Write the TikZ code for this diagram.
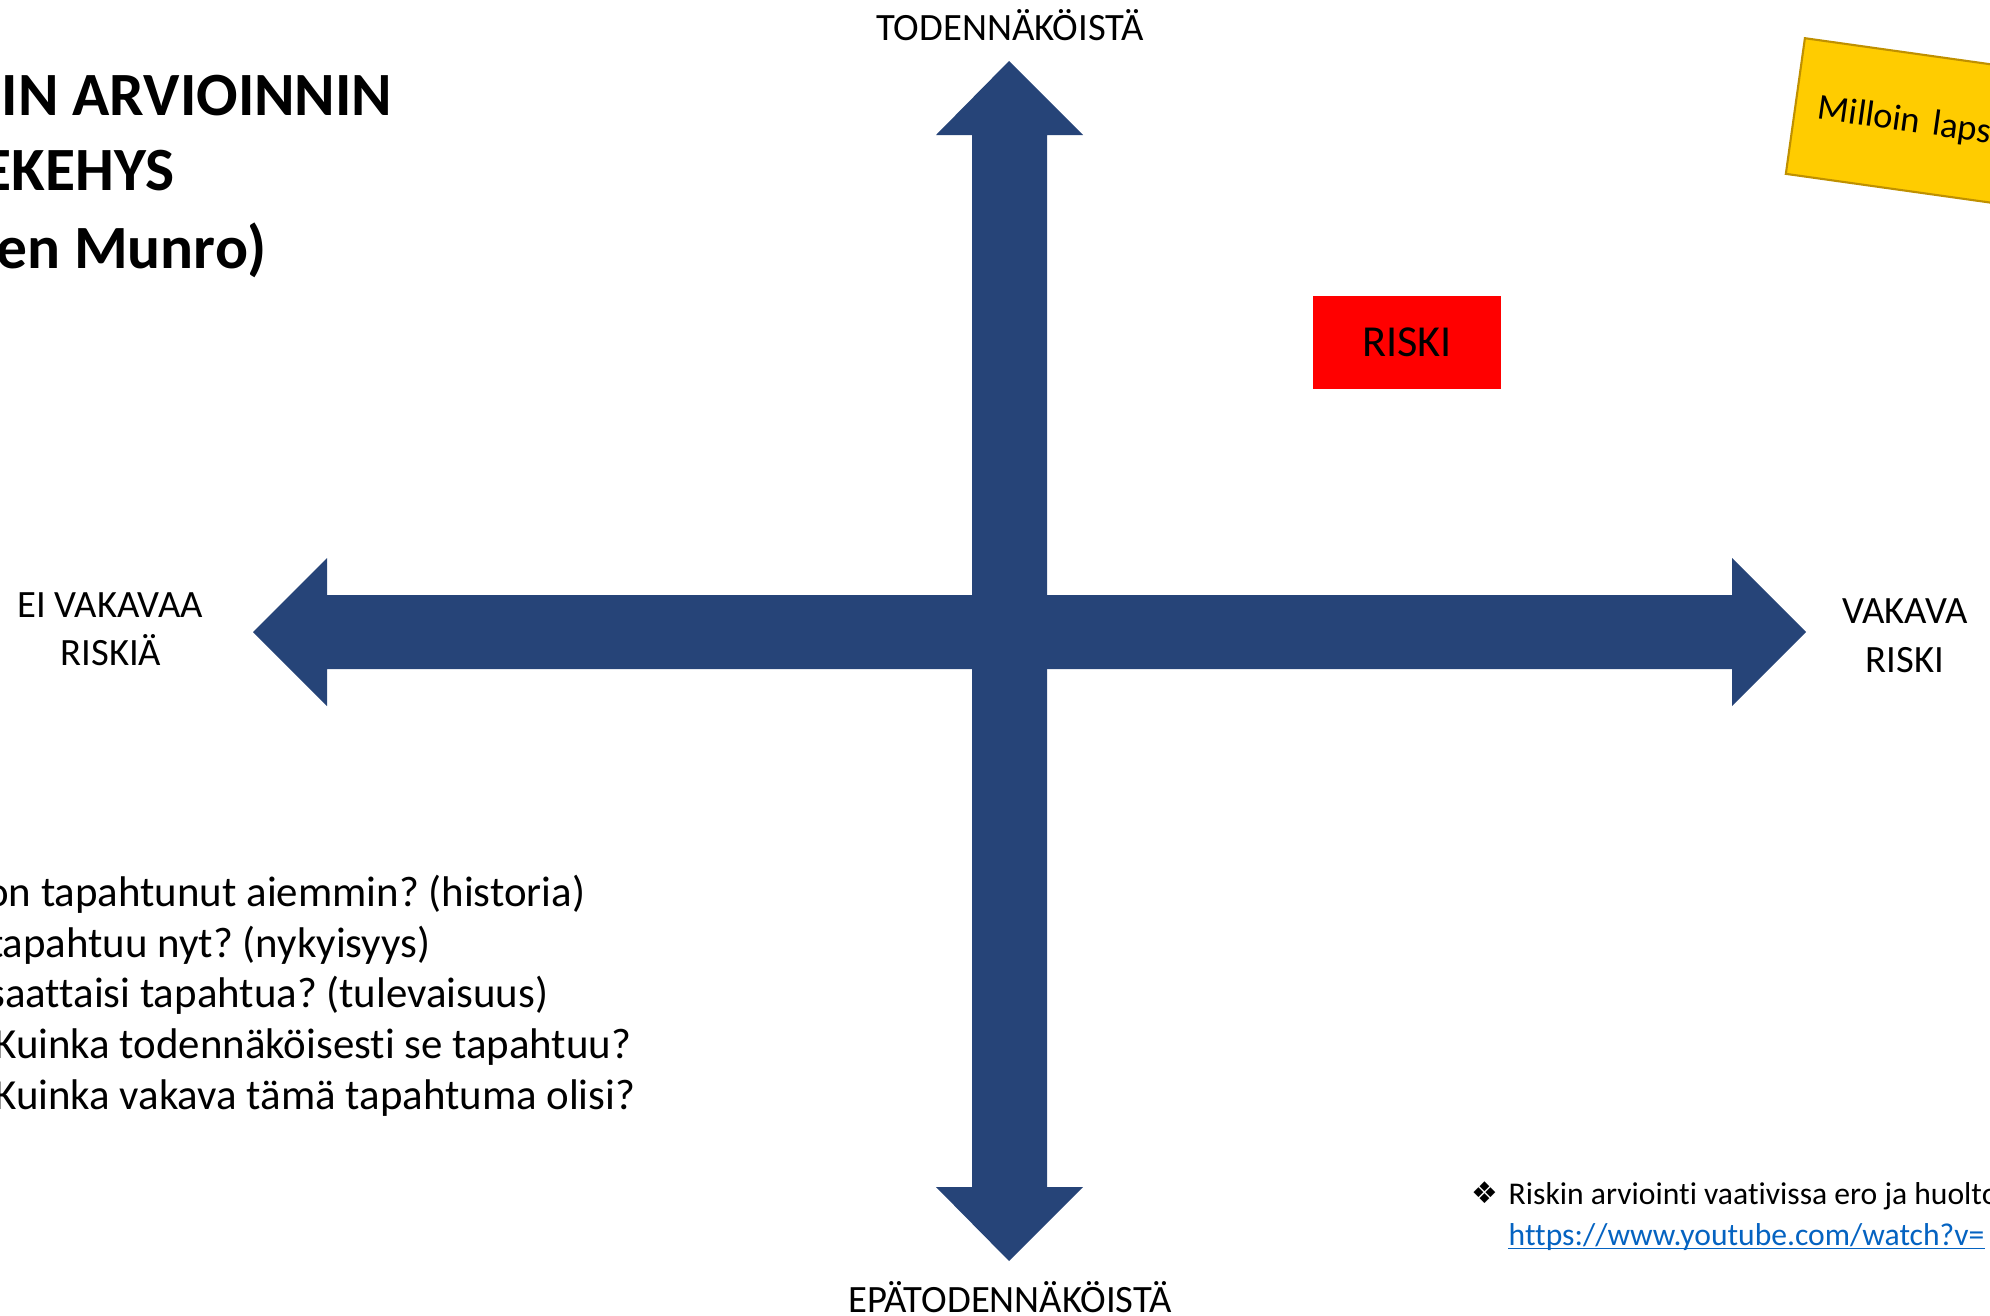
\documentclass[tikz,border=0pt]{standalone}
\usepackage{fontspec}
\setmainfont{Carlito}[Ligatures=NoCommon,RawFeature=-liga]
\newfontfamily\dingfont{DejaVu Sans}
\usepackage{xcolor}
\frenchspacing

\definecolor{crossblue}{RGB}{38,68,120}
\definecolor{stickygold}{RGB}{255,204,0}
\definecolor{stickyedge}{RGB}{191,144,0}
\definecolor{linkblue}{RGB}{5,99,193}

\tikzset{
  titleline/.style={anchor=base east,inner sep=0pt,font=\fontsize{17.5}{21}\selectfont\bfseries},
  axislabel/.style={anchor=base,inner sep=0pt,font=\fontsize{11}{13}\selectfont},
  question/.style={anchor=base east,inner sep=0pt,font=\fontsize{12.2}{14.6}\selectfont},
  notetext/.style={anchor=base west,inner sep=0pt,font=\fontsize{9}{11}\selectfont},
}

\begin{document}
\begin{tikzpicture}[x=0.1mm,y=-0.1mm,line join=miter]
\clip (0,0) rectangle (1990,1315);

% the two double arrows
\fill[crossblue] (253,632) -- (327,558) -- (327,595) -- (1732,595) -- (1732,558)
  -- (1806,632) -- (1732,706) -- (1732,669) -- (327,669) -- (327,706) -- cycle;
\fill[crossblue] (1009,61) -- (1083,135) -- (1047,135) -- (1047,1187) -- (1083,1187)
  -- (1009,1261) -- (936,1187) -- (972,1187) -- (972,135) -- (936,135) -- cycle;

% title
\node[titleline] (title1) at (393,115) {IN ARVIOINNIN};
\node[titleline] (title2) at (175,190) {EKEHYS};
\node[titleline] (title3) at (267,268) {en Munro)};

% axis ends
\node[axislabel] (likely) at (1010,41) {TODENNÄKÖISTÄ};
\node[axislabel] (unlikely) at (1010,1312) {EPÄTODENNÄKÖISTÄ};
\node[axislabel] (low1) at (110,617) {EI VAKAVAA};
\node[axislabel] (low2) at (111,665) {RISKIÄ};
\node[axislabel] (high1) at (1905,623) {VAKAVA};
\node[axislabel] (high2) at (1905,672) {RISKI};

% risk box
\node[fill=red,minimum width=18.8mm,minimum height=9.3mm,inner sep=0pt,
  font=\fontsize{12.6}{15}\selectfont] (risk) at (1407,342) {RISKI};

% sticky note
\node[draw=stickyedge,fill=stickygold,line width=0.6pt,rotate=-8,anchor=north west,
  minimum height=13.7mm,text width=60mm,inner xsep=2.3mm,align=left,
  font=\fontsize{10.4}{12.5}\selectfont] (sticky) at (1804,37) {Milloin lapsi};

% questions
\node[question] (q1) at (586,906) {on tapahtunut aiemmin? (historia)};
\node[question] (q2) at (431,957) {tapahtuu nyt? (nykyisyys)};
\node[question] (q3) at (549,1007) {saattaisi tapahtua? (tulevaisuus)};
\node[question] (q4) at (632,1058) {Kuinka todennäköisesti se tapahtuu?};
\node[question] (q5) at (636,1109) {Kuinka vakava tämä tapahtuma olisi?};

% source note
\node[inner sep=0pt,font=\dingfont\fontsize{8.5}{10}\selectfont] (bullet) at (1485,1193) {❖};
\node[notetext] (source) at (1508,1204) {Riskin arviointi vaativissa ero ja huolto};
\node[notetext,text=linkblue] (link) at (1508,1245) {https://www.youtube.com/watch?v=};
\draw[linkblue,line width=0.55pt] ([yshift=-0.35mm]link.base west) -- ([yshift=-0.35mm]link.base east);

\end{tikzpicture}
\end{document}
